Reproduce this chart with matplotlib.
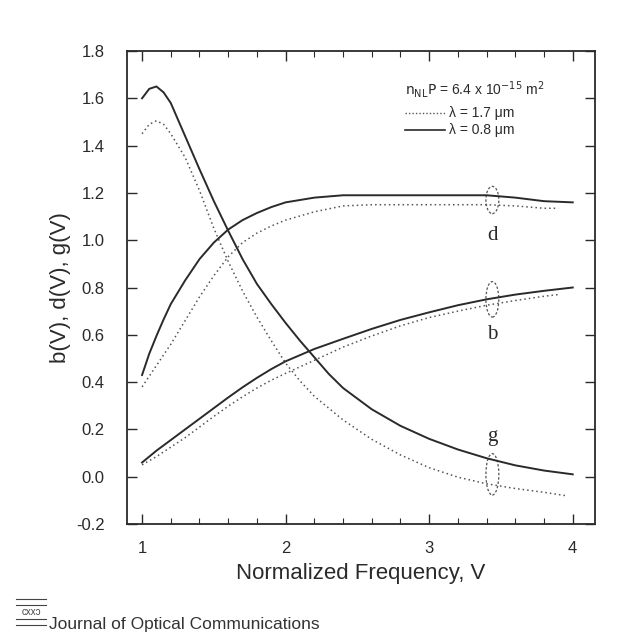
import matplotlib
matplotlib.use("Agg")
import matplotlib.pyplot as plt
from matplotlib.patches import Ellipse
from matplotlib.lines import Line2D

# ---- data ----
V_g_solid = [1.0, 1.05, 1.1, 1.15, 1.2, 1.3, 1.4, 1.5, 1.6, 1.7, 1.8, 1.9, 2.0, 2.1, 2.2, 2.3, 2.4, 2.6, 2.8, 3.0, 3.2, 3.4, 3.6, 3.8, 4.0]
g_solid = [1.60, 1.64, 1.65, 1.625, 1.58, 1.44, 1.30, 1.165, 1.04, 0.92, 0.815, 0.73, 0.65, 0.575, 0.505, 0.435, 0.375, 0.285, 0.215, 0.16, 0.115, 0.078, 0.048, 0.026, 0.01]

V_g_dot = [1.0, 1.05, 1.1, 1.15, 1.2, 1.3, 1.4, 1.5, 1.6, 1.7, 1.8, 1.9, 2.0, 2.1, 2.2, 2.3, 2.4, 2.6, 2.8, 3.0, 3.2, 3.4, 3.6, 3.8, 3.95]
g_dot = [1.45, 1.49, 1.505, 1.49, 1.45, 1.35, 1.21, 1.05, 0.91, 0.785, 0.675, 0.575, 0.48, 0.405, 0.34, 0.29, 0.24, 0.158, 0.092, 0.038, -0.002, -0.03, -0.05, -0.066, -0.08]

V_d_solid = [1.0, 1.05, 1.1, 1.15, 1.2, 1.3, 1.4, 1.5, 1.6, 1.7, 1.8, 1.9, 2.0, 2.2, 2.4, 2.6, 3.0, 3.4, 3.6, 3.8, 4.0]
d_solid = [0.43, 0.52, 0.595, 0.665, 0.73, 0.83, 0.92, 0.99, 1.045, 1.085, 1.115, 1.14, 1.16, 1.18, 1.19, 1.19, 1.19, 1.19, 1.18, 1.165, 1.16]

V_d_dot = [1.0, 1.1, 1.2, 1.3, 1.4, 1.5, 1.6, 1.7, 1.8, 1.9, 2.0, 2.2, 2.4, 2.6, 3.0, 3.4, 3.6, 3.8, 3.9]
d_dot = [0.38, 0.47, 0.56, 0.66, 0.76, 0.85, 0.93, 0.99, 1.03, 1.06, 1.085, 1.12, 1.145, 1.15, 1.15, 1.15, 1.145, 1.135, 1.135]

V_b_solid = [1.0, 1.1, 1.2, 1.3, 1.4, 1.5, 1.6, 1.7, 1.8, 1.9, 2.0, 2.2, 2.4, 2.6, 2.8, 3.0, 3.2, 3.4, 3.6, 3.8, 4.0]
b_solid = [0.06, 0.11, 0.155, 0.20, 0.245, 0.29, 0.335, 0.378, 0.418, 0.455, 0.488, 0.54, 0.583, 0.625, 0.663, 0.695, 0.725, 0.75, 0.77, 0.786, 0.80]

V_b_dot = [1.0, 1.1, 1.2, 1.3, 1.4, 1.5, 1.6, 1.7, 1.8, 1.9, 2.0, 2.2, 2.4, 2.6, 2.8, 3.0, 3.2, 3.4, 3.6, 3.8, 3.9]
b_dot = [0.05, 0.085, 0.125, 0.165, 0.21, 0.255, 0.298, 0.338, 0.375, 0.408, 0.437, 0.492, 0.548, 0.595, 0.638, 0.673, 0.70, 0.725, 0.745, 0.763, 0.77]

x_ticks = [1, 2, 3, 4]
y_ticks = [-0.2, 0.0, 0.2, 0.4, 0.6, 0.8, 1.0, 1.2, 1.4, 1.6, 1.8]
curve_labels = ["d", "b", "g"]
label_pos_y = [1.02, 0.60, 0.17]
ellipse_y = [1.17, 0.75, 0.01]
ellipse_h = [0.115, 0.15, 0.175]

sans = "Liberation Sans"
serif = "Liberation Serif"
col = "#2a2a2a"
dcol = "#555555"

fig = plt.figure(figsize=(6.18, 6.36), dpi=100)
ax = fig.add_axes([127/618, 1 - 524/636, 468/618, 473/636])

ax.plot(V_g_solid, g_solid, color=col, lw=1.4)
ax.plot(V_g_dot, g_dot, color=dcol, lw=1.1, ls=(0, (1, 2)))
ax.plot(V_d_solid, d_solid, color=col, lw=1.4)
ax.plot(V_d_dot, d_dot, color=dcol, lw=1.1, ls=(0, (1, 2)))
ax.plot(V_b_solid, b_solid, color=col, lw=1.4)
ax.plot(V_b_dot, b_dot, color=dcol, lw=1.1, ls=(0, (1, 2)))

ax.set_xlim(0.895, 4.155)
ax.set_ylim(-0.2, 1.8)
ax.set_xticks(x_ticks)
ax.set_xticklabels([str(t) for t in x_ticks], fontfamily=sans, fontsize=12)
ax.set_xticks([1 + 0.2 * i for i in range(16)], minor=True)
ax.set_yticks(y_ticks)
ax.set_yticklabels([f"{t:.1f}" for t in y_ticks], fontfamily=sans, fontsize=12)
ax.tick_params(which="both", direction="in", top=True, right=True, colors=col)
ax.tick_params(which="major", length=7, width=1.0)
ax.tick_params(axis="y", which="major", pad=16)
ax.tick_params(axis="x", which="major", pad=12)
ax.tick_params(which="minor", length=4, width=0.8)
for s in ax.spines.values():
    s.set_color(col)
    s.set_linewidth(1.3)

ax.set_xlabel("Normalized Frequency, V", fontfamily=sans, fontsize=16, color=col, labelpad=5)
ax.set_ylabel("b(V), d(V), g(V)", fontfamily=sans, fontsize=16, color=col, labelpad=4)

for lab, ly, ey, eh in zip(curve_labels, label_pos_y, ellipse_y, ellipse_h):
    ax.text(3.44, ly, lab, fontfamily=serif, fontsize=15, color=col, ha="center", va="center")
    ax.add_patch(Ellipse((3.44, ey), 0.09, eh, fill=False, ec=dcol, lw=0.9, ls=(0, (2, 1.5))))

# legend block
ax.text(0.595, 0.918, r"$\mathrm{n}_{\mathrm{NL}}\mathrm{P}$ = 6.4 x 10$^{-15}$ m$^2$", transform=ax.transAxes,
        fontfamily=sans, fontsize=10, color=col, ha="left", va="center")
ax.add_line(Line2D([0.595, 0.68], [0.868, 0.868], transform=ax.transAxes, color=dcol, lw=1.0, ls=(0, (1, 1.5))))
ax.text(0.688, 0.868, "λ = 1.7 μm", transform=ax.transAxes, fontfamily=sans, fontsize=10, color=col, ha="left", va="center")
ax.add_line(Line2D([0.595, 0.68], [0.832, 0.832], transform=ax.transAxes, color=col, lw=1.2))
ax.text(0.688, 0.832, "λ = 0.8 μm", transform=ax.transAxes, fontfamily=sans, fontsize=10, color=col, ha="left", va="center")

# footer
for yy in [599, 605, 619, 625]:
    fig.add_artist(Line2D([16/618, 46/618], [1 - yy/636, 1 - yy/636], color="#444444", lw=0.8))
fig.text(31/618, 1 - 612/636, "cxxɔ", fontfamily=sans, fontsize=7, color="#444444", ha="center", va="center")
fig.text(49/618, 1 - 625/636, "Journal of Optical Communications", fontfamily=sans, fontsize=12.5,
         color="#333333", ha="left", va="center")

fig.savefig("out.png", dpi=100, facecolor="white")
